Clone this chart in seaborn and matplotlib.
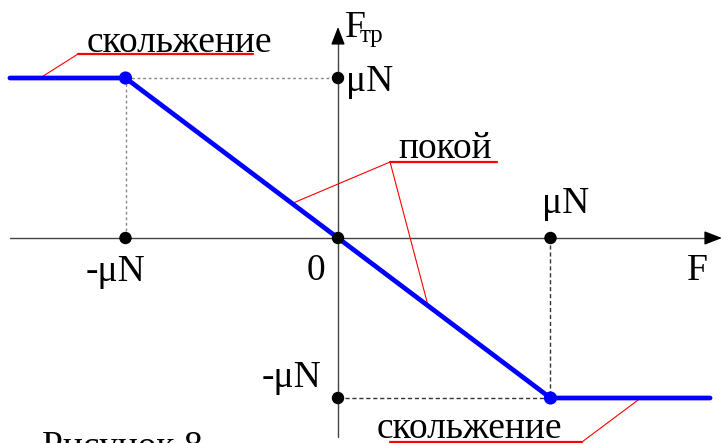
import matplotlib
matplotlib.use('Agg')
import matplotlib.pyplot as plt
import seaborn as sns
import numpy as np

sns.set_theme(style='white')
plt.rcParams['font.family'] = ['Liberation Serif', 'DejaVu Serif']

# характеристика силы трения (в единицах μN)
F = [-1.544, -1.0, 1.0, 1.751]
Ftr = [1.0, 1.0, -1.0, -1.0]

# отмеченные точки на осях
pts_x = [-1.0, 0.0, 1.0, 0.0, 0.0]
pts_y = [0.0, 0.0, 0.0, 1.0, -1.0]

# точки излома
knee_x = [-1.0, 1.0]
knee_y = [1.0, -1.0]

fs = 27
fig = plt.figure(figsize=(7.23, 4.43), dpi=100)
ax = fig.add_axes([0, 0, 1, 1])
ax.set_xlim(-1.5906, 1.8118)
ax.set_ylim(-1.28125, 1.4875)
ax.axis('off')

# оси
ax.plot([-1.544, 1.75], [0, 0], color='#444444', lw=1.0, zorder=1)
ax.plot([0, 0], [-1.244, 1.25], color='#444444', lw=1.0, zorder=1)
ax.annotate('', xy=(1.807, 0), xytext=(1.74, 0),
            arrowprops=dict(arrowstyle='-|>,head_length=0.9,head_width=0.35',
                            color='black', lw=1.0, shrinkA=0, shrinkB=0))
ax.annotate('', xy=(0, 1.319), xytext=(0, 1.22),
            arrowprops=dict(arrowstyle='-|>,head_length=0.9,head_width=0.35',
                            color='black', lw=1.0, shrinkA=0, shrinkB=0))

# пунктирные проекции
ax.plot([knee_x[0], 0], [knee_y[0], knee_y[0]], color='#888888', lw=1.0, ls=(0, (2, 2)), zorder=1)
ax.plot([knee_x[0], knee_x[0]], [knee_y[0], 0], color='#888888', lw=1.0, ls=(0, (2, 2)), zorder=1)
ax.plot([knee_x[1], knee_x[1]], [0, knee_y[1]], color='#333333', lw=1.0, ls=(0, (3, 2)), zorder=1)
ax.plot([0, knee_x[1]], [knee_y[1], knee_y[1]], color='#333333', lw=1.0, ls=(0, (3, 2)), zorder=1)

# основная линия
sns.lineplot(x=F, y=Ftr, sort=False, color='#0000ff', lw=3.4, ax=ax, zorder=3)
sns.scatterplot(x=knee_x, y=knee_y, color='#0000ff', s=90, edgecolor='none', ax=ax, zorder=4)
sns.scatterplot(x=pts_x, y=pts_y, color='black', s=80, edgecolor='none', ax=ax, zorder=5)

# подписи осей и значений
ax.text(0.033, 1.256, 'F', fontsize=fs, ha='left', va='baseline', color='black')
ax.text(0.1, 1.222, 'тр', fontsize=18, ha='left', va='baseline', color='black')
ax.text(0.038, 0.919, 'μN', fontsize=fs, ha='left', va='baseline', color='black')
ax.text(-0.106, -0.2625, '0', fontsize=fs, ha='center', va='baseline', color='black')
ax.text(-1.045, -0.269, '-μN', fontsize=fs, ha='center', va='baseline', color='black')
ax.text(1.071, 0.156, 'μN', fontsize=fs, ha='center', va='baseline', color='black')
ax.text(1.692, -0.2625, 'F', fontsize=fs, ha='center', va='baseline', color='black')
ax.text(-0.221, -0.931, '-μN', fontsize=fs, ha='center', va='baseline', color='black')

# выноски
red = '#ff0000'
ax.text(-1.181, 1.1625, 'скольжение', fontsize=fs, ha='left', va='baseline', color='black')
ax.plot([-1.2235, -0.4], [1.15, 1.15], color=red, lw=1.6, zorder=2)
ax.plot([-1.402, -1.2235], [1.0, 1.15], color=red, lw=0.8, zorder=2)

ax.text(0.282, 0.5, 'покой', fontsize=fs, ha='left', va='baseline', color='black')
ax.plot([0.245, 0.748], [0.475, 0.475], color=red, lw=1.6, zorder=2)
ax.plot([-0.216, 0.245, 0.424], [0.216, 0.475, -0.424], color=red, lw=0.8, zorder=2)

ax.text(0.184, -1.25, 'скольжение', fontsize=fs, ha='left', va='baseline', color='black')
ax.plot([0.245, 1.148], [-1.275, -1.275], color=red, lw=1.6, zorder=2)
ax.plot([1.148, 1.431], [-1.275, -0.994], color=red, lw=0.8, zorder=2)

ax.text(-1.393, -1.369, 'Рисунок 8', fontsize=fs, ha='left', va='baseline', color='black')

fig.savefig('out.png', dpi=100)
